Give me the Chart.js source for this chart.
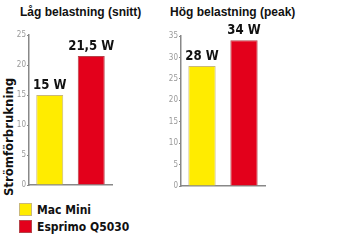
<!DOCTYPE html>
<html>
<head>
<meta charset="utf-8">
<script src="https://cdn.jsdelivr.net/npm/chart.js@4"></script>
<style>
  body { margin: 0; background: #fff; width: 350px; height: 240px; overflow: hidden; position: relative; font-family: "Liberation Sans", Arial, sans-serif; }
  canvas { position: absolute; top: 0; }
  .title { position: absolute; top: 5px; font-weight: bold; font-size: 12px; color: #111; white-space: nowrap; }
  .cond { font-family: "DejaVu Sans Condensed", "DejaVu Sans", sans-serif; font-stretch: condensed; font-weight: bold; color: #111; white-space: nowrap; }
  .ytitle { position: absolute; left: 8px; top: 137px; transform: translate(-50%, -50%) rotate(-90deg); font-size: 13px; }
  .legend { position: absolute; left: 19px; font-size: 12px; line-height: 14px; }
  .legend span { display: inline-block; width: 13px; height: 13px; vertical-align: top; margin-right: 5px; box-sizing: border-box; }
</style>
</head>
<body>
<div class="title" style="left:20px">Låg belastning (snitt)</div>
<div class="title" style="left:170px">Hög belastning (peak)</div>
<div class="ytitle cond">Strömförbrukning</div>
<canvas id="lowChart" width="120" height="195" style="left:0"></canvas>
<canvas id="peakChart" width="125" height="196" style="left:150px"></canvas>
<div class="legend cond" style="top:203px"><span style="background:#ffec00;border:1px solid #c9b87a"></span>Mac Mini</div>
<div class="legend cond" style="top:220px"><span style="background:#e3001b;border:1px solid #b5434a"></span>Esprimo Q5030</div>
<script>
const seriesNames = ['Mac Mini', 'Esprimo Q5030'];
const lowValues = [15, 21.5];
const peakValues = [28, 34];
const lowMax = 25;
const peakMax = 35;
const fills = ['#ffec00', '#e3001b'];
const borders = ['#c9b87a', '#b5434a'];

const valueLabels = {
    id: 'valueLabels',
    afterDatasetsDraw(chart) {
        const ctx = chart.ctx;
        ctx.save();
        ctx.font = 'bold 14px "DejaVu Sans", sans-serif';
        ctx.fillStyle = '#111';
        ctx.textAlign = 'center';
        ctx.textBaseline = 'bottom';
        chart.data.datasets.forEach((ds, i) => {
            chart.getDatasetMeta(i).data.forEach((bar, j) => {
                const txt = String(ds.data[j]).replace('.', ',') + ' W';
                // squeeze horizontally, the original uses a condensed face
                ctx.save();
                ctx.translate(bar.x, bar.y - 3);
                ctx.scale(0.84, 1);
                ctx.fillText(txt, 0, 0);
                ctx.restore();
            });
        });
        ctx.restore();
    }
};

const makeChart = (id, values, max, axisWidth, pad) => new Chart(document.getElementById(id), {
    type: 'bar',
    data: {
        labels: [''],
        datasets: seriesNames.map((name, i) => ({
            label: name,
            data: [values[i]],
            backgroundColor: fills[i],
            borderColor: borders[i],
            borderWidth: 1
        }))
    },
    options: {
        responsive: false,
        animation: false,
        devicePixelRatio: 1,
        layout: { padding: pad },
        datasets: { bar: { categoryPercentage: 1, barPercentage: 0.65 } },
        plugins: { legend: { display: false }, tooltip: { enabled: false } },
        scales: {
            x: {
                grid: { display: false },
                ticks: { display: false },
                border: { color: '#888', width: 1.5 },
                afterFit: (s) => { s.height = 0; }
            },
            y: {
                min: 0,
                max: max,
                ticks: { stepSize: 5, color: '#999', padding: 1, font: { size: 8, family: '"DejaVu Sans Condensed", "DejaVu Sans", sans-serif' } },
                grid: { drawOnChartArea: false, tickLength: 2, color: '#888' },
                border: { color: '#888', width: 1.5 },
                afterFit: (s) => { s.width = axisWidth; }
            }
        }
    },
    plugins: [valueLabels]
});

makeChart('lowChart', lowValues, lowMax, 29, { top: 35, bottom: 10, right: 8, left: 0 });
makeChart('peakChart', peakValues, peakMax, 31, { top: 36, bottom: 10, right: 10, left: 0 });
</script>
</body>
</html>
